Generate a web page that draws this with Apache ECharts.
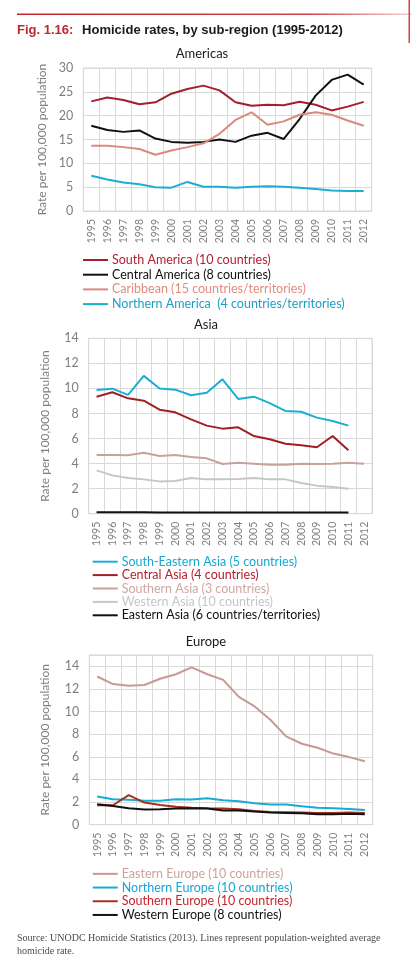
<!DOCTYPE html>
<html>
<head>
<meta charset="utf-8">
<script src="https://cdn.jsdelivr.net/npm/echarts@6/dist/echarts.min.js"></script>
<style>
html,body{margin:0;padding:0;background:#fff;}
#chart{width:419px;height:966px;}
</style>
</head>
<body>
<div id="chart"></div>
<script>
const years = ['1995','1996','1997','1998','1999','2000','2001','2002','2003','2004','2005','2006','2007','2008','2009','2010','2011','2012'];

// Americas
const southAmerica   = [23.0,23.8,23.3,22.4,22.8,24.6,25.6,26.3,25.3,22.8,22.1,22.3,22.2,22.9,22.3,21.1,21.9,22.9];
const centralAmerica = [17.9,17.0,16.6,16.9,15.2,14.5,14.3,14.5,15.0,14.5,15.8,16.4,15.1,19.3,24.2,27.5,28.6,26.5];
const caribbean      = [13.7,13.7,13.4,13.0,11.8,12.7,13.4,14.2,16.2,19.1,20.7,18.1,18.8,20.2,20.7,20.2,19.0,17.9];
const northernAmerica= [7.4,6.6,6.0,5.6,5.0,4.9,6.1,5.1,5.1,4.9,5.1,5.2,5.1,4.9,4.6,4.3,4.2,4.2];

// Asia
const seAsia       = [9.87,9.98,9.48,11.0,10.0,9.9,9.45,9.66,10.73,9.16,9.34,8.83,8.2,8.14,7.67,7.4,7.03,null];
const centralAsia  = [9.34,9.69,9.21,9.02,8.3,8.09,7.53,7.03,6.79,6.9,6.2,5.94,5.59,5.46,5.3,6.2,5.06,null];
const southernAsia = [4.68,4.68,4.66,4.87,4.6,4.68,4.52,4.42,3.97,4.07,3.99,3.91,3.91,3.99,3.97,3.99,4.07,3.99];
const westernAsia  = [3.46,3.06,2.85,2.74,2.58,2.61,2.85,2.74,2.74,2.77,2.85,2.74,2.74,2.45,2.24,2.13,2.0,null];
const easternAsia  = [0.12,0.12,0.12,0.11,0.1,0.1,0.1,0.1,0.1,0.1,0.1,0.1,0.1,0.1,0.1,0.1,0.1,null];

// Europe
const easternEurope  = [13.1,12.43,12.29,12.35,12.9,13.3,13.9,13.3,12.8,11.3,10.45,9.27,7.8,7.15,6.8,6.28,5.97,5.61];
const northernEurope = [2.48,2.24,2.19,2.1,2.1,2.24,2.21,2.33,2.16,2.07,1.89,1.77,1.77,1.62,1.5,1.45,1.39,1.3];
const southernEurope = [1.71,1.71,2.6,1.95,1.74,1.57,1.5,1.45,1.42,1.36,1.21,1.12,1.09,1.06,1.03,1.03,1.06,1.03];
const westernEurope  = [1.8,1.65,1.45,1.33,1.36,1.42,1.45,1.42,1.24,1.24,1.15,1.06,1.03,1.0,0.92,0.92,0.95,0.92];

const yTicksAmericas = {min:0, max:30, interval:5};
const yTicksAsia = {min:0, max:14, interval:2};
const yTicksEurope = {min:0, max:15, interval:2};

const FONT = 'Lato';
const GRID_COLOR = '#d9d9d9';
const LABEL_COLOR = '#7f7f7f';

const groups = [
  {
    title:'Americas', titleX:202, titleY:54,
    grid:{left:83.3, right:47.3, top:68, height:143},
    y: yTicksAmericas, nameGap:33,
    legendTop:253, legendLeft:83, lineHeight:14, itemGap:0.7,
    series:[
      {name:'South America (10 countries)', data:southAmerica, color:'#a31f2b', text:'#b3202e'},
      {name:'Central America (8 countries)', data:centralAmerica, color:'#111111', text:'#111111'},
      {name:'Caribbean (15 countries/territories)', data:caribbean, color:'#da8a7c', text:'#e08c7e'},
      {name:'Northern America  (4 countries/territories)', data:northernAmerica, color:'#1badd6', text:'#1a9fc6'}
    ]
  },
  {
    title:'Asia', titleX:206, titleY:325,
    grid:{left:88.7, right:47, top:338.3, height:175.4},
    y: yTicksAsia, nameGap:38,
    legendTop:555, legendLeft:92.7, lineHeight:13.4, itemGap:0,
    series:[
      {name:'South-Eastern Asia (5 countries)', data:seAsia, color:'#1aaed4', text:'#1aa6cf'},
      {name:'Central Asia (4 countries)', data:centralAsia, color:'#a21e25', text:'#b3202e'},
      {name:'Southern Asia (3 countries)', data:southernAsia, color:'#c9a19b', text:'#cfa7a0'},
      {name:'Western Asia (10 countries)', data:westernAsia, color:'#c6c6c6', text:'#c6c6c6'},
      {name:'Eastern Asia (6 countries/territories)', data:easternAsia, color:'#111111', text:'#111111'}
    ]
  },
  {
    title:'Europe', titleX:206, titleY:642,
    grid:{left:89.3, right:46.3, top:655, height:169.6},
    y: yTicksEurope, nameGap:38,
    legendTop:867, legendLeft:92.7, lineHeight:13.7, itemGap:0,
    series:[
      {name:'Eastern Europe (10 countries)', data:easternEurope, color:'#c39b93', text:'#cba39b'},
      {name:'Northern Europe (10 countries)', data:northernEurope, color:'#16acd4', text:'#18a6cf'},
      {name:'Southern Europe (10 countries)', data:southernEurope, color:'#a3321f', text:'#c0282d'},
      {name:'Western Europe (8 countries)', data:westernEurope, color:'#111111', text:'#111111'}
    ]
  }
];

const option = {
  animation:false,
  backgroundColor:'#fff',
  textStyle:{fontFamily:FONT},
  title:[{
    left:17, top:21, padding:0,
    text:'{a|Fig. 1.16:}  {b|Homicide rates, by sub-region (1995-2012)}',
    textStyle:{
      rich:{
        a:{fontFamily:'Liberation Sans', fontWeight:'bold', fontSize:13, color:'#c0272d'},
        b:{fontFamily:'Liberation Sans', fontWeight:'bold', fontSize:13, color:'#1a1a1a'}
      }
    }
  }],
  grid:[], xAxis:[], yAxis:[], series:[], legend:[],
  graphic:[
    {type:'rect', shape:{x:17, y:13.5, width:395, height:1.5}, style:{fill:new echarts.graphic.LinearGradient(0,0,1,0,[{offset:0,color:'#c4272e'},{offset:0.75,color:'#d0454a'},{offset:1,color:'#f3d2d2'}])}},
    {type:'rect', shape:{x:408.5, y:0, width:1.5, height:43}, style:{fill:'#d0454a'}},
    {type:'text', x:17, y:938, style:{text:'Source: UNODC Homicide Statistics (2013). Lines represent population-weighted average', font:'10px "Liberation Serif"', fill:'#4a4a4a', verticalAlign:'middle', textVerticalAlign:'middle'}},
    {type:'text', x:17, y:951.5, style:{text:'homicide rate.', font:'10px "Liberation Serif"', fill:'#4a4a4a', verticalAlign:'middle', textVerticalAlign:'middle'}}
  ]
};

groups.forEach((g, gi) => {
  option.graphic.push({type:'text', x:g.titleX, y:g.titleY, style:{text:g.title, font:'13px '+FONT, fill:'#1a1a1a', align:'center', textAlign:'center', verticalAlign:'middle', textVerticalAlign:'middle'}});
  option.grid.push(Object.assign({show:true, borderColor:GRID_COLOR, borderWidth:1, containLabel:false}, g.grid));
  option.xAxis.push({
    type:'category', gridIndex:gi, data:years, boundaryGap:true,
    axisLine:{show:true, lineStyle:{color:GRID_COLOR}},
    axisTick:{show:false},
    splitLine:{show:true, interval:0, lineStyle:{color:GRID_COLOR, width:1}},
    axisLabel:{interval:0, rotate:90, color:LABEL_COLOR, fontSize:10.5, fontFamily:FONT, margin:8}
  });
  option.yAxis.push({
    type:'value', gridIndex:gi, min:g.y.min, max:g.y.max, interval:g.y.interval,
    name:'Rate per 100,000 population', nameLocation:'middle', nameGap:g.nameGap, nameRotate:90,
    nameTextStyle:{color:LABEL_COLOR, fontSize:12, fontFamily:FONT},
    axisLine:{show:false}, axisTick:{show:false},
    splitLine:{show:true, lineStyle:{color:GRID_COLOR, width:1}},
    axisLabel:{color:LABEL_COLOR, fontSize:12.5, fontFamily:FONT, margin:10,
      formatter:(v)=> (v > g.y.max - g.y.interval && v % g.y.interval !== 0) ? '' : String(v)}
  });
  option.legend.push({
    orient:'vertical', left:g.legendLeft, top:g.legendTop, padding:0,
    itemWidth:25, itemHeight:2, itemGap:g.itemGap, icon:'rect',
    selectedMode:false,
    textStyle:{fontSize:12.5, fontFamily:FONT, lineHeight:g.lineHeight, padding:[0,0,0,-1]},
    data:g.series.map(s=>({name:s.name, textStyle:{color:s.text}}))
  });
  g.series.forEach(s => {
    option.series.push({
      type:'line', name:s.name, xAxisIndex:gi, yAxisIndex:gi, data:s.data,
      symbol:'none', connectNulls:false,
      lineStyle:{color:s.color, width:2},
      itemStyle:{color:s.color}
    });
  });
});

const chart = echarts.init(document.getElementById('chart'), null, {renderer:'canvas'});
chart.setOption(option);
</script>
</body>
</html>
